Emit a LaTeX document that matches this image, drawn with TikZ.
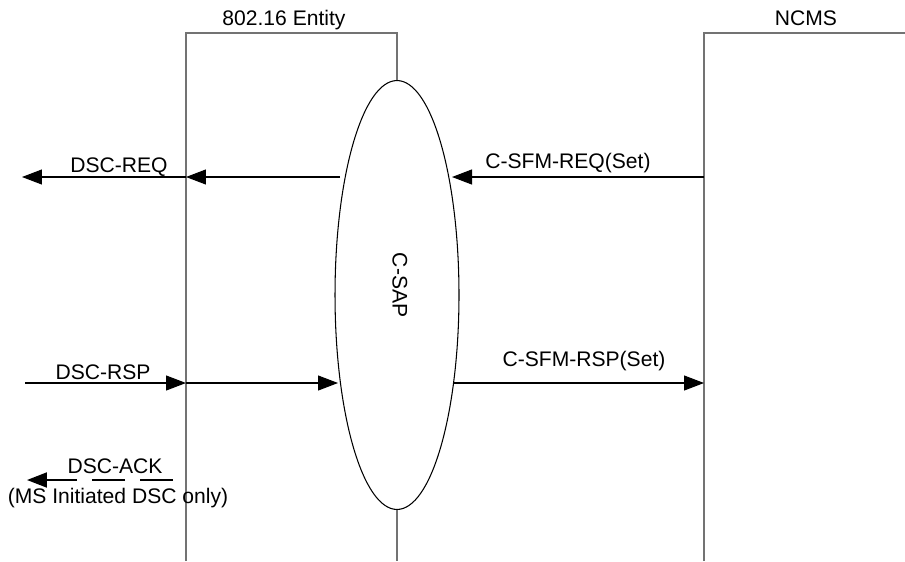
\documentclass[tikz,border=0pt]{standalone}
\usepackage{fontspec}
\setmainfont{Liberation Sans}
\usepackage{tikz}
\usetikzlibrary{arrows.meta, shapes.geometric}

\begin{document}
\begin{tikzpicture}[
    x=0.02cm, y=-0.02cm,
    lifeline/.style={draw=black!55, line width=0.6pt},
    msg/.style={-{Triangle[length=0.4cm, width=0.3cm]}, line width=0.6pt},
    ackmsg/.style={msg, line width=1.1pt, dash pattern=on 0.66cm off 0.3cm},
    lbl/.style={anchor=base, inner sep=0pt, font=\fontsize{12}{14}\selectfont},
    sapshape/.style={ellipse, draw, line width=0.6pt, minimum width=2.48cm, minimum height=8.58cm, inner sep=0pt}
]
\useasboundingbox (0,0) rectangle (905,561);

% Entitaeten
\node[lbl] (enttitle) at (284,26) {802.16 Entity};
\node[lbl] (ncmstitle) at (806,26) {NCMS};
\node[sapshape] (sap) at (397,295) {};
\node[lbl, anchor=center, rotate=-90] (saplabel) at (400,285) {C-SAP};

% Lebenslinien
\draw[lifeline] (186,561) -- (186,33) -- (397,33) -- (sap.north);
\draw[lifeline] (sap.south) -- (397,561);
\draw[lifeline] (704,561) -- (704,33) -- (905,33);

% Endpunkte
\coordinate (reqout) at (22,177);
\coordinate (reqent) at (186,177);
\coordinate (reqsapl) at (340,177);
\coordinate (reqsapr) at (452,177);
\coordinate (reqncms) at (704,177);
\coordinate (rspin) at (25,383);
\coordinate (rspent) at (186,383);
\coordinate (rspsapl) at (338,383);
\coordinate (rspsapr) at (453,383);
\coordinate (rspncms) at (704,383);
\coordinate (ackstart) at (173,480);
\coordinate (ackout) at (27,480);

% Nachrichten
\draw[msg] (reqsapl) -- (reqent);
\draw[msg] (reqent) -- (reqout);
\draw[msg] (reqncms) -- (reqsapr);
\draw[msg] (rspin) -- (rspent);
\draw[msg] (rspent) -- (rspsapl);
\draw[msg] (rspsapr) -- (rspncms);
\draw[ackmsg] (ackstart) -- (ackout);

% Beschriftungen
\node[lbl] (reqlbl) at (119,172) {DSC-REQ};
\node[lbl] (sfmreqlbl) at (568,168) {C-SFM-REQ(Set)};
\node[lbl] (rsplbl) at (103,379) {DSC-RSP};
\node[lbl] (sfmrsplbl) at (584,366) {C-SFM-RSP(Set)};
\node[lbl] (acklbl) at (115,473) {DSC-ACK};
\node[lbl] (acknote) at (118,503) {(MS Initiated DSC only)};

\end{tikzpicture}
\end{document}
